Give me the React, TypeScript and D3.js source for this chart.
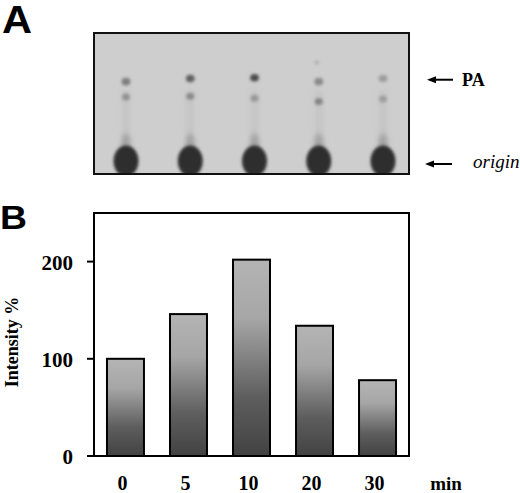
import React from "react";
import * as d3 from "d3";

// ---- data ----
const timePoints = ["0", "5", "10", "20", "30"];
const intensity = [100, 146, 202, 134, 78];
const yTicks = [0, 100, 200];
// TLC spots (relative migration from origin, density 0..1)
const paRf = [0.62, 0.645, 0.65, 0.62, 0.645];
const paDensity = [0.5, 0.68, 0.82, 0.42, 0.3];
const lowerRf = [0.5, 0.505, 0.49, 0.465, 0.485];
const lowerDensity = [0.38, 0.42, 0.34, 0.45, 0.3];
const originDensity = [1, 1, 1, 1, 1];
const extraSpotLane = ["20"];
const extraSpotRf = [0.77];
const extraSpotDensity = [0.22];

const W = 520;
const H = 493;

export default function App() {
  // panel B scales
  const x = d3
    .scaleBand<string>()
    .domain(timePoints)
    .range([94, 409])
    .paddingInner(0.413)
    .paddingOuter(0.206);
  const y = d3.scaleLinear().domain([0, 250]).range([456, 213]);

  // panel A scales
  const lane = d3.scalePoint<string>().domain(timePoints).range([126, 383]);
  const rf = d3.scaleLinear().domain([0, 1]).range([161, 33]);

  const serif = "'Liberation Serif', 'Times New Roman', serif";
  const sans = "'Liberation Sans', Arial, sans-serif";

  const spotFill = (d: number) => d3.interpolateRgb("#cdcdcd", "#2e2e2e")(d);

  return (
    <svg
      width={W}
      height={H}
      viewBox={`0 0 ${W} ${H}`}
      style={{ position: "absolute", left: 0, top: 0, background: "#fff" }}
    >
      <defs>
        <linearGradient id="barGrad" x1="0" y1="0" x2="0" y2="1">
          <stop offset="0" stopColor="#b4b4b4" />
          <stop offset="0.3" stopColor="#a6a6a6" />
          <stop offset="0.7" stopColor="#5e5e5e" />
          <stop offset="1" stopColor="#424242" />
        </linearGradient>
        <filter id="blurS" x="-100%" y="-100%" width="300%" height="300%">
          <feGaussianBlur stdDeviation="1.5" />
        </filter>
        <filter id="blurL" x="-50%" y="-50%" width="200%" height="200%">
          <feGaussianBlur stdDeviation="1.6" />
        </filter>
        <filter id="blurT" x="-200%" y="-50%" width="500%" height="200%">
          <feGaussianBlur stdDeviation="2.5" />
        </filter>
        <clipPath id="gelClip">
          <rect x={94} y={33} width={315} height={141} />
        </clipPath>
      </defs>

      {/* Panel labels */}
      <text x={2} y={33} fontFamily={sans} fontWeight="bold" fontSize={38} textLength={30} lengthAdjust="spacingAndGlyphs">
        A
      </text>
      <text x={0} y={229} fontFamily={sans} fontWeight="bold" fontSize={34} textLength={27} lengthAdjust="spacingAndGlyphs">
        B
      </text>

      {/* ---- Panel A: TLC ---- */}
      <rect x={94} y={33} width={315} height={141} fill="#cecece" />
      <g clipPath="url(#gelClip)">
        {timePoints.map((t, i) => (
          <g key={"lane" + t}>
            {/* faint lane smear */}
            <rect
              x={lane(t)! - 4}
              y={rf(0.55)}
              width={8}
              height={rf(0) - rf(0.55)}
              fill="#bdbdbd"
              opacity={0.5}
              filter="url(#blurT)"
            />
            {/* tail above origin */}
            <ellipse
              cx={lane(t)!}
              cy={rf(0.13)}
              rx={4.5}
              ry={11}
              fill="#8a8a8a"
              opacity={0.6}
              filter="url(#blurT)"
            />
            {/* origin blob */}
            <ellipse
              cx={lane(t)!}
              cy={rf(0)}
              rx={12.5}
              ry={15.5}
              fill={spotFill(originDensity[i])}
              filter="url(#blurL)"
            />
            {/* lower spot */}
            <ellipse
              cx={lane(t)!}
              cy={rf(lowerRf[i])}
              rx={4}
              ry={3.5}
              fill={spotFill(lowerDensity[i])}
              filter="url(#blurS)"
            />
            {/* PA spot */}
            <ellipse
              cx={lane(t)!}
              cy={rf(paRf[i])}
              rx={4.4}
              ry={3.8}
              fill={spotFill(paDensity[i])}
              filter="url(#blurS)"
            />
          </g>
        ))}
        {extraSpotLane.map((t, i) => (
          <ellipse
            key={"ex" + i}
            cx={lane(t)! - 2}
            cy={rf(extraSpotRf[i])}
            rx={2.2}
            ry={2}
            fill={spotFill(extraSpotDensity[i])}
            filter="url(#blurS)"
          />
        ))}
      </g>
      <rect x={94} y={33} width={315} height={141} fill="none" stroke="#111" strokeWidth={2} />

      {/* PA arrow */}
      <line x1={434} y1={rf(0.635)} x2={453} y2={rf(0.635)} stroke="#000" strokeWidth={2} />
      <path
        d={`M427,${rf(0.635)} L436,${rf(0.635) - 3.5} L436,${rf(0.635) + 3.5} Z`}
        fill="#000"
      />
      <text x={462} y={rf(0.635) + 6} fontFamily={serif} fontWeight="bold" fontSize={18}>
        PA
      </text>

      {/* origin arrow */}
      <line x1={432} y1={164} x2={452} y2={164} stroke="#000" strokeWidth={2} />
      <path d={`M425,164 L434,160.5 L434,167.5 Z`} fill="#000" />
      <text x={473} y={168} fontFamily={serif} fontStyle="italic" fontSize={19}>
        origin
      </text>

      {/* ---- Panel B: bar chart ---- */}
      {intensity.map((v, i) => (
        <rect
          key={"bar" + i}
          x={x(timePoints[i])!}
          y={y(v)}
          width={x.bandwidth()}
          height={y(0) - y(v)}
          fill="url(#barGrad)"
          stroke="#000"
          strokeWidth={2}
        />
      ))}

      {/* frame */}
      <rect x={94} y={213} width={315} height={243} fill="none" stroke="#000" strokeWidth={2} />

      {/* y ticks */}
      {yTicks.map((t) => (
        <g key={"yt" + t}>
          <line x1={87} x2={94} y1={y(t)} y2={y(t)} stroke="#000" strokeWidth={2} />
          <text
            x={73}
            y={y(t) + 8}
            textAnchor="end"
            fontFamily={serif}
            fontWeight="bold"
            fontSize={21}
          >
            {t}
          </text>
        </g>
      ))}

      {/* x labels */}
      {timePoints.map((t) => (
        <text
          key={"xl" + t}
          x={x(t)! + x.bandwidth() / 2 - 3}
          y={490}
          textAnchor="middle"
          fontFamily={serif}
          fontWeight="bold"
          fontSize={20}
        >
          {t}
        </text>
      ))}
      <text x={446} y={490} textAnchor="middle" fontFamily={serif} fontWeight="bold" fontSize={19}>
        min
      </text>

      {/* y axis title */}
      <text
        transform={`translate(18,342) rotate(-90)`}
        textAnchor="middle"
        fontFamily={serif}
        fontWeight="bold"
        fontSize={18}
      >
        Intensity %
      </text>
    </svg>
  );
}
